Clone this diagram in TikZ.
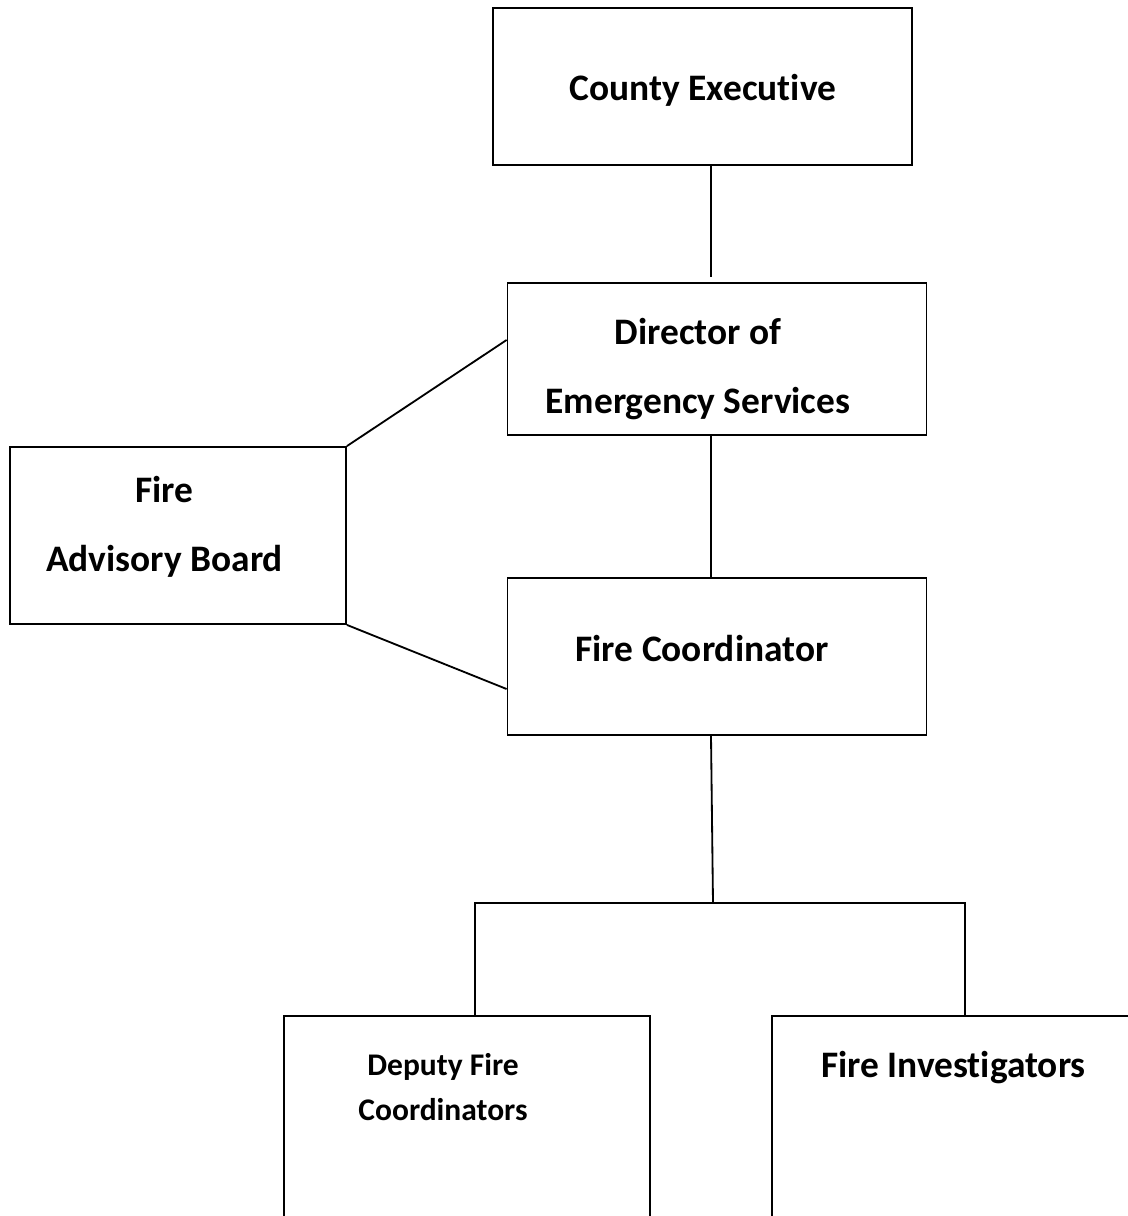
\documentclass[tikz,border=0pt]{standalone}
\usepackage{fontspec}
\setmainfont{Carlito}[Ligatures=NoCommon]
\usetikzlibrary{positioning}
\newlength\px
\setlength\px{0.025cm}
\tikzset{
  box/.style={draw=black,line width=1.3pt,inner sep=0pt},
  title/.style={font=\bfseries\fontsize{26.6}{49}\selectfont,align=center,inner sep=0pt},
  small title/.style={font=\bfseries\fontsize{22.4}{32}\selectfont,align=center,inner sep=0pt},
  link/.style={draw=black,line width=1.3pt},
}
\begin{document}
\begin{tikzpicture}[x=0.025cm,y=-0.025cm]
  \useasboundingbox (0,0) rectangle (1128,1216);
  \clip (0,0) rectangle (1128,1216);
  % boxes
  \node[box,minimum width=419\px,minimum height=157\px] (ce) at (702.5,86.5) {};
  \node[box,minimum width=419\px,minimum height=152\px] (des) at (717,359) {};
  \node[box,minimum width=336\px,minimum height=177\px] (fab) at (178,535.5) {};
  \node[box,minimum width=419\px,minimum height=157\px] (fc) at (717,656.5) {};
  \node[box,minimum width=366\px,minimum height=300\px] (dfc) at (467,1166) {};
  \node[box,minimum width=420\px,minimum height=300\px] (fi) at (982,1166) {};
  % texts
  \node[title] (ce-t) at (703,90) {County Executive};
  \node[title] (des-t) at (698,369) {Director of\\Emergency Services};
  \node[title] (fab-t) at (164.5,527) {Fire\\Advisory Board};
  \node[title] (fc-t) at (702,649) {Fire Coordinator};
  \node[small title] (dfc-t) at (443,1087) {Deputy Fire\\Coordinators};
  \node[title] (fi-t) at (953.5,1068) {Fire Investigators};
  % connectors
  \coordinate (spine) at (711,0);
  \coordinate (gap) at (711,277);
  \coordinate (fork) at (713,903);
  \coordinate (left drop) at (475,903);
  \coordinate (right drop) at (965,903);
  \draw[link] (ce.south -| gap) -- (gap);
  \draw[link] (des.south -| spine) -- (fc.north -| spine);
  \draw[link] (fc.south -| spine) -- (fork);
  \draw[link] (dfc.north -| left drop) -- (left drop) -- (right drop) -- (fi.north -| right drop);
  \draw[link] (fab.north east) -- ([yshift=19\px]des.west);
  \draw[link] (fab.south east) -- ([yshift=-32.5\px]fc.west);
\end{tikzpicture}
\end{document}
